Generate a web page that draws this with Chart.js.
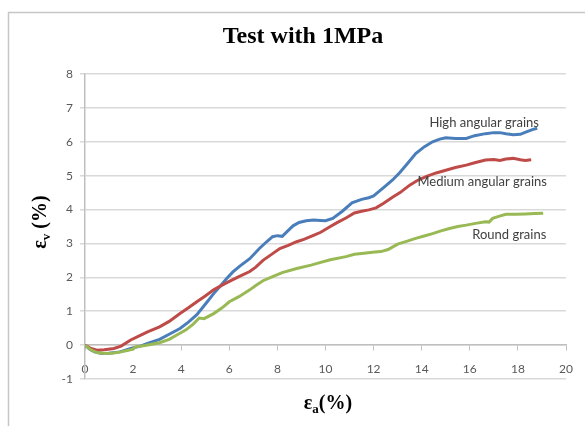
<!DOCTYPE html>
<html>
<head>
<meta charset="utf-8">
<script src="https://cdn.jsdelivr.net/npm/chart.js@4.4.0/dist/chart.umd.min.js"></script>
<style>
  html, body { margin: 0; padding: 0; background: #fff; overflow: hidden; }
  #wrap { position: relative; width: 585px; height: 426px; }
</style>
</head>
<body>
<div id="wrap"><canvas id="strainChart" width="585" height="426"></canvas></div>
<script>
// ===== Volumetric vs axial strain, triaxial test at 1 MPa =====

const CHART_TITLE = 'Test with 1MPa';

// axis ranges / tick spacing
const X_MIN = 0, X_MAX = 20, X_STEP = 2;
const Y_MIN = -1, Y_MAX = 8, Y_STEP = 1;

// high angular grains
const highX = [0, 0.2, 0.4, 0.7, 1.0, 1.45, 1.9, 2.3, 2.6, 3.1, 3.5, 3.95, 4.3, 4.65, 5.05, 5.35, 5.6, 5.9, 6.15, 6.45, 6.85, 7.25, 7.55, 7.8, 8.0, 8.2, 8.4, 8.65, 8.9, 9.2, 9.5, 9.8, 10.0, 10.3, 10.7, 11.1, 11.5, 11.8, 12.0, 12.3, 12.5, 12.8, 13.1, 13.4, 13.75, 14.1, 14.45, 14.75, 15.0, 15.4, 15.85, 16.2, 16.65, 17.0, 17.25, 17.5, 17.8, 18.1, 18.35, 18.6, 18.8];
const highY = [0, -0.12, -0.2, -0.25, -0.24, -0.2, -0.1, -0.03, 0.05, 0.17, 0.32, 0.49, 0.68, 0.9, 1.25, 1.52, 1.72, 1.97, 2.16, 2.34, 2.55, 2.85, 3.05, 3.2, 3.23, 3.21, 3.35, 3.52, 3.62, 3.67, 3.69, 3.68, 3.67, 3.74, 3.95, 4.2, 4.3, 4.35, 4.4, 4.58, 4.7, 4.88, 5.1, 5.35, 5.65, 5.85, 6.0, 6.08, 6.12, 6.1, 6.1, 6.18, 6.24, 6.27, 6.27, 6.24, 6.21, 6.22, 6.29, 6.36, 6.4];

// medium angular grains
const mediumX = [0, 0.25, 0.5, 0.8, 1.2, 1.5, 1.9, 2.3, 2.6, 3.1, 3.5, 3.95, 4.3, 4.65, 5.0, 5.35, 5.7, 6.0, 6.4, 6.85, 7.1, 7.4, 7.8, 8.1, 8.45, 8.8, 9.1, 9.5, 9.8, 10.2, 10.5, 10.85, 11.2, 11.5, 11.8, 12.1, 12.4, 12.8, 13.1, 13.5, 13.8, 14.2, 14.6, 15.0, 15.4, 15.85, 16.2, 16.65, 17.0, 17.25, 17.5, 17.8, 18.1, 18.3, 18.55];
const mediumY = [0, -0.1, -0.15, -0.14, -0.1, -0.03, 0.15, 0.29, 0.39, 0.54, 0.7, 0.93, 1.1, 1.28, 1.45, 1.63, 1.77, 1.88, 2.02, 2.17, 2.3, 2.5, 2.7, 2.85, 2.94, 3.05, 3.12, 3.24, 3.33, 3.5, 3.62, 3.75, 3.9, 3.95, 3.99, 4.05, 4.18, 4.37, 4.5, 4.72, 4.85, 4.98, 5.08, 5.16, 5.24, 5.31, 5.38, 5.46, 5.48, 5.45, 5.49, 5.51, 5.47, 5.45, 5.47];

// round grains
const roundX = [0, 0.25, 0.5, 0.8, 1.2, 1.5, 1.8, 2.0, 2.1, 2.5, 3.1, 3.5, 3.8, 4.2, 4.5, 4.75, 4.95, 5.35, 5.7, 6.0, 6.4, 6.85, 7.1, 7.4, 7.8, 8.2, 8.8, 9.4, 9.8, 10.2, 10.85, 11.2, 11.6, 11.95, 12.3, 12.6, 13.0, 13.4, 13.75, 14.1, 14.45, 14.8, 15.15, 15.5, 15.85, 16.3, 16.65, 16.8, 16.95, 17.2, 17.5, 17.9, 18.3, 18.7, 19.05];
const roundY = [0, -0.14, -0.22, -0.25, -0.23, -0.2, -0.15, -0.12, -0.05, -0.01, 0.07, 0.17, 0.29, 0.45, 0.62, 0.8, 0.78, 0.93, 1.1, 1.28, 1.43, 1.63, 1.76, 1.9, 2.02, 2.14, 2.26, 2.36, 2.44, 2.52, 2.61, 2.68, 2.71, 2.74, 2.76, 2.82, 2.98, 3.07, 3.15, 3.22, 3.29, 3.37, 3.44, 3.5, 3.54, 3.6, 3.64, 3.63, 3.74, 3.8, 3.86, 3.86, 3.87, 3.88, 3.89];

const seriesNames = ['High angular grains', 'Medium angular grains', 'Round grains'];
const seriesColors = ['#4a7ebb', '#be4b48', '#98b954'];
// where each curve's name sits (data coords, left edge / middle)
const labelX = [14.32, 13.82, 16.1];
const labelY = [6.55, 4.81, 3.24];

const toPoints = (xs, ys) => xs.map((x, i) => ({ x, y: ys[i] }));

// text: title, axis titles with subscripts, curve names, outer frame
function drawSubscripted(ctx, parts, cx, cy, rotate) {
  const main = 'bold 20px "Liberation Serif"';
  const sub = 'bold 13px "Liberation Serif"';
  let total = 0;
  parts.forEach(p => { ctx.font = p.sub ? sub : main; total += ctx.measureText(p.text).width; });
  ctx.save();
  ctx.translate(cx, cy);
  if (rotate) ctx.rotate(-Math.PI / 2);
  ctx.fillStyle = '#000';
  ctx.textBaseline = 'alphabetic';
  ctx.textAlign = 'left';
  let x = -total / 2;
  parts.forEach(p => {
    ctx.font = p.sub ? sub : main;
    ctx.fillText(p.text, x, p.sub ? 10 : 6);
    x += ctx.measureText(p.text).width;
  });
  ctx.restore();
}

const decorations = {
  id: 'decorations',
  beforeDraw(chart) {
    const ctx = chart.ctx;
    ctx.save();
    ctx.fillStyle = '#fff';
    ctx.fillRect(0, 0, chart.width, chart.height);
    ctx.strokeStyle = '#c6c6c6';
    ctx.lineWidth = 1.5;
    ctx.strokeRect(8.5, 12.5, 700, 600);
    ctx.restore();
  },
  afterDraw(chart) {
    const ctx = chart.ctx;
    const xs = chart.scales.x, ys = chart.scales.y;
    ctx.save();
    ctx.fillStyle = '#000';
    ctx.font = 'bold 24px "Liberation Serif"';
    ctx.textAlign = 'center';
    ctx.textBaseline = 'middle';
    ctx.fillText(CHART_TITLE, 303, 37);

    ctx.font = '13px Lato';
    ctx.fillStyle = '#404040';
    ctx.textAlign = 'left';
    seriesNames.forEach((name, i) => {
      ctx.fillText(name, xs.getPixelForValue(labelX[i]), ys.getPixelForValue(labelY[i]));
    });
    ctx.restore();

    drawSubscripted(ctx, [{ text: 'ε' }, { text: 'v', sub: true }, { text: ' (%)' }], 40, 222, true);
    drawSubscripted(ctx, [{ text: 'ε' }, { text: 'a', sub: true }, { text: '(%)' }], 328, 403, false);
  }
};

const tickFont = { family: 'Lato', size: 12 };

new Chart(document.getElementById('strainChart'), {
  type: 'scatter',
  data: {
    datasets: [
      { label: seriesNames[0], data: toPoints(highX, highY) },
      { label: seriesNames[1], data: toPoints(mediumX, mediumY) },
      { label: seriesNames[2], data: toPoints(roundX, roundY) }
    ].map((d, i) => ({
      ...d,
      showLine: true,
      borderColor: seriesColors[i],
      backgroundColor: seriesColors[i],
      borderWidth: 3,
      pointRadius: 0,
      tension: 0,
      order: 2 - i
    }))
  },
  options: {
    responsive: false,
    animation: false,
    layout: { padding: { left: 0, right: 18, top: 74, bottom: 47 } },
    plugins: { legend: { display: false }, tooltip: { enabled: false }, title: { display: false } },
    scales: {
      x: {
        type: 'linear',
        position: { y: 0 },
        min: X_MIN, max: X_MAX,
        ticks: { stepSize: X_STEP, color: '#595959', font: tickFont, padding: 12, maxRotation: 0 },
        grid: { drawOnChartArea: false, drawTicks: true, tickLength: 5, color: '#bfbfbf' },
        border: { display: true, color: '#bfbfbf', width: 1.5 }
      },
      y: {
        min: Y_MIN, max: Y_MAX,
        ticks: { stepSize: Y_STEP, color: '#595959', font: tickFont, padding: 7 },
        grid: { color: '#d9d9d9', lineWidth: 1.5, tickLength: 5 },
        border: { display: true, color: '#bfbfbf', width: 1.5 },
        afterFit: s => { s.width = 85; }
      }
    }
  },
  plugins: [decorations]
});
</script>
</body>
</html>
